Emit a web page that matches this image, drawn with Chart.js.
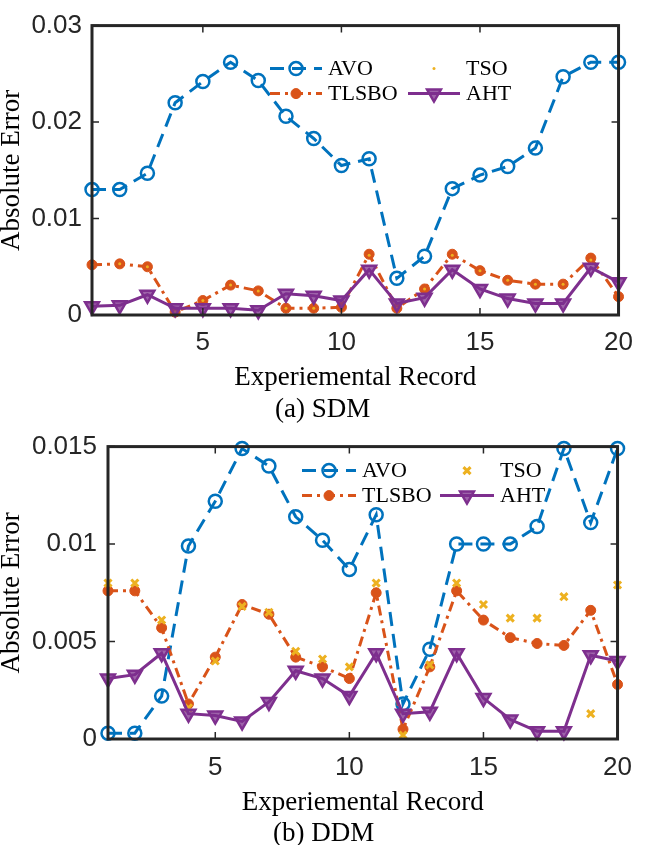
<!DOCTYPE html>
<html>
<head>
<meta charset="utf-8">
<script src="https://cdn.jsdelivr.net/npm/chart.js@4.4.1/dist/chart.umd.min.js"></script>
<style>
  body { margin: 0; background: #fff; }
  .wrap { position: relative; width: 645px; height: 845px; }
  canvas { position: absolute; left: 0; }
  .caption { position: absolute; font: 27px "Liberation Serif", serif; line-height: 30px; color: #000; white-space: nowrap; z-index: 2; }
</style>
</head>
<body>
<div class="wrap">
  <canvas id="sdmChart" width="645" height="395" style="top:0"></canvas>
  <canvas id="ddmChart" width="645" height="400" style="top:420px"></canvas>
  <div class="caption" style="left:275px; top:393px">(a) SDM</div>
  <div class="caption" style="left:273px; top:817px">(b) DDM</div>
</div>
<script>
// experimental records 1..20
const records = [1,2,3,4,5,6,7,8,9,10,11,12,13,14,15,16,17,18,19,20];
const seriesNames = ['AVO', 'TLSBO', 'TSO', 'AHT'];

// (a) SDM absolute errors
const avoSDM   = [0.0130,0.0130,0.0147,0.0220,0.0242,0.0262,0.0243,0.0206,0.0183,0.0155,0.0162,0.0038,0.0061,0.0131,0.0145,0.0154,0.0173,0.0247,0.0262,0.0262];
const tlsboSDM = [0.0052,0.0053,0.0050,0.0003,0.0015,0.0031,0.0025,0.0007,0.0007,0.0008,0.0063,0.0007,0.0027,0.0063,0.0046,0.0036,0.0032,0.0032,0.0059,0.0019];
const tsoSDM   = [0.0052,0.0053,0.0050,0.0003,0.0015,0.0031,0.0025,0.0007,0.0007,0.0008,0.0062,0.0007,0.0027,0.0062,0.0046,0.0036,0.0032,0.0032,0.0057,0.0019];
const ahtSDM   = [0.0009,0.0010,0.0021,0.0007,0.0007,0.0007,0.0005,0.0022,0.0020,0.0015,0.0047,0.0012,0.0018,0.0047,0.0027,0.0017,0.0012,0.0012,0.0049,0.0034];

// (b) DDM absolute errors
const avoDDM   = [0.0003,0.0003,0.0022,0.0099,0.0122,0.0149,0.0140,0.0114,0.0102,0.0087,0.0115,0.0018,0.0046,0.0100,0.0100,0.0100,0.0109,0.0149,0.0111,0.0149];
const tlsboDDM = [0.0076,0.0076,0.0057,0.0018,0.0042,0.0069,0.0064,0.0042,0.0037,0.0031,0.0075,0.0005,0.0037,0.0076,0.0061,0.0052,0.0049,0.0048,0.0066,0.0028];
const tsoDDM   = [0.0080,0.0080,0.0061,0.0016,0.0040,0.0068,0.0065,0.0045,0.0041,0.0037,0.0080,0.0002,0.0038,0.0080,0.0069,0.0062,0.0062,0.0073,0.0013,0.0079];
const ahtDDM   = [0.0031,0.0033,0.0044,0.0013,0.0012,0.0009,0.0019,0.0035,0.0031,0.0022,0.0044,0.0013,0.0014,0.0044,0.0021,0.0010,0.0004,0.0004,0.0043,0.0040];

const xTicks = [5, 10, 15, 20];
const yTicksSDM = [0, 0.01, 0.02, 0.03];
const yTicksDDM = [0, 0.005, 0.01, 0.015];

const BLUE = '#0072BD', ORANGE = '#D95319', YELLOW = '#EDB120', PURPLE = '#7E2F8E';
const AXIS = '#262626';

function toPoints(vals) {
    return vals.map((v, i) => ({ x: records[i], y: v }));
}

function buildDatasets(avo, tlsbo, tso, aht, tsoStyle) {
    return [
        {
            label: seriesNames[0], data: toPoints(avo), order: 3,
            borderColor: BLUE, borderWidth: 3, borderDash: [14, 8],
            pointStyle: 'circle', pointRadius: 6.5, pointBorderWidth: 2.5,
            pointBorderColor: BLUE, pointBackgroundColor: 'rgba(0,0,0,0)'
        },
        {
            label: seriesNames[1], data: toPoints(tlsbo), order: 2,
            borderColor: ORANGE, borderWidth: 3, borderDash: [10, 5, 3, 5],
            pointStyle: 'circle', pointRadius: 5, pointBorderWidth: 1,
            pointBorderColor: ORANGE, pointBackgroundColor: ORANGE
        },
        tsoStyle === 'dot' ? {
            label: seriesNames[2], data: toPoints(tso), order: 1, showLine: false,
            pointStyle: 'circle', pointRadius: 1.5, pointBorderWidth: 0,
            pointBorderColor: YELLOW, pointBackgroundColor: YELLOW, borderColor: YELLOW
        } : {
            label: seriesNames[2], data: toPoints(tso), order: 1, showLine: false,
            pointStyle: 'crossRot', pointRadius: 5, pointBorderWidth: 3,
            pointBorderColor: YELLOW, pointBackgroundColor: YELLOW, borderColor: YELLOW
        },
        {
            label: seriesNames[3], data: toPoints(aht), order: 0,
            borderColor: PURPLE, borderWidth: 3,
            pointStyle: 'triangle', pointRotation: 180, pointRadius: 8, pointBorderWidth: 2.5,
            pointBorderColor: PURPLE, pointBackgroundColor: 'rgba(126,47,142,0.75)'
        }
    ];
}

// box + inward ticks, MATLAB style
const boxPlugin = {
    id: 'box',
    afterDatasetsDraw(chart) {
        const { ctx, chartArea: a, scales } = chart;
        ctx.save();
        ctx.strokeStyle = AXIS;
        ctx.lineWidth = 1.5;
        const len = 7;
        scales.x.ticks.forEach(t => {
            const px = scales.x.getPixelForValue(t.value);
            ctx.beginPath();
            ctx.moveTo(px, a.bottom); ctx.lineTo(px, a.bottom - len);
            ctx.moveTo(px, a.top); ctx.lineTo(px, a.top + len);
            ctx.stroke();
        });
        scales.y.ticks.forEach(t => {
            const py = scales.y.getPixelForValue(t.value);
            ctx.beginPath();
            ctx.moveTo(a.left, py); ctx.lineTo(a.left + len, py);
            ctx.moveTo(a.right, py); ctx.lineTo(a.right - len, py);
            ctx.stroke();
        });
        ctx.lineWidth = 3;
        ctx.strokeRect(a.left, a.top, a.right - a.left, a.bottom - a.top);
        ctx.restore();
    }
};

// two-column legend inside the axes, filled column by column
const insideLegend = {
    id: 'insideLegend',
    afterDraw(chart, args, opts) {
        const { ctx, chartArea: a } = chart;
        ctx.save();
        chart.data.datasets.forEach((ds, i) => {
            const col = Math.floor(i / 2), row = i % 2;
            const x0 = a.left + opts.dx + col * opts.colGap;
            const y0 = a.top + opts.dy + row * opts.rowGap;
            const mid = x0 + opts.sample / 2;
            if (ds.showLine !== false) {
                ctx.strokeStyle = ds.borderColor;
                ctx.lineWidth = ds.borderWidth;
                ctx.setLineDash(ds.borderDash || []);
                ctx.beginPath();
                ctx.moveTo(x0, y0); ctx.lineTo(x0 + opts.sample, y0);
                ctx.stroke();
            }
            ctx.setLineDash([]);
            ctx.strokeStyle = ds.pointBorderColor;
            ctx.fillStyle = ds.pointBackgroundColor;
            ctx.lineWidth = ds.pointBorderWidth;
            Chart.helpers.drawPoint(ctx, {
                pointStyle: ds.pointStyle, rotation: ds.pointRotation || 0,
                radius: ds.pointRadius, borderWidth: ds.pointBorderWidth
            }, mid, y0);
            ctx.fillStyle = '#000';
            ctx.font = '22px "Liberation Serif", serif';
            ctx.textBaseline = 'middle';
            ctx.textAlign = 'left';
            ctx.fillText(ds.label, x0 + opts.textOffset, y0 + 1);
        });
        ctx.restore();
    }
};

function makeChart(id, datasets, yMax, yTicks, geo) {
    return new Chart(document.getElementById(id), {
        type: 'line',
        data: { datasets },
        plugins: [boxPlugin, insideLegend],
        options: {
            responsive: false,
            animation: false,
            devicePixelRatio: 1,
            layout: { padding: { left: 0, right: geo.padRight, top: geo.padTop, bottom: 0 } },
            datasets: { line: { clip: false, tension: 0 } },
            plugins: {
                legend: { display: false },
                tooltip: { enabled: false },
                insideLegend: geo.legend
            },
            scales: {
                x: {
                    type: 'linear', min: 1, max: 20,
                    afterBuildTicks: s => { s.ticks = xTicks.map(v => ({ value: v })); },
                    afterFit: s => { s.height = geo.xHeight; },
                    grid: { display: false, drawTicks: false },
                    border: { display: false },
                    ticks: { color: AXIS, padding: geo.xTickPad, font: { family: 'Liberation Sans', size: 26 } },
                    title: {
                        display: true, text: 'Experiemental Record', color: '#000',
                        padding: { top: 0, bottom: 1 },
                        font: { family: 'Liberation Serif', size: 27, lineHeight: 1.2 }
                    }
                },
                y: {
                    min: 0, max: yMax,
                    afterBuildTicks: s => { s.ticks = yTicks.map(v => ({ value: v })); },
                    afterFit: s => { s.width = geo.yWidth; },
                    grid: { display: false, drawTicks: false },
                    border: { display: false },
                    ticks: {
                        color: AXIS, padding: geo.yTickPad,
                        font: { family: 'Liberation Sans', size: 26 },
                        callback: v => v === 0 ? '0' : String(+v.toFixed(3))
                    },
                    title: {
                        display: true, text: 'Absolute Error', color: '#000',
                        padding: { top: 0, bottom: 0 },
                        font: { family: 'Liberation Serif', size: 27, lineHeight: 0.85 }
                    }
                }
            }
        }
    });
}

makeChart('sdmChart', buildDatasets(avoSDM, tlsboSDM, tsoSDM, ahtSDM, 'dot'), 0.03, yTicksSDM, {
    padRight: 19, padTop: 10, xHeight: 80, yWidth: 92, xTickPad: 12, yTickPad: 10,
    legend: { dx: 178, dy: 43, colGap: 138, rowGap: 25, sample: 52, textOffset: 58 }
});

makeChart('ddmChart', buildDatasets(avoDDM, tlsboDDM, tsoDDM, ahtDDM, 'cross'), 0.015, yTicksDDM, {
    padRight: 13, padTop: 16, xHeight: 81, yWidth: 108, xTickPad: 13, yTickPad: 11,
    legend: { dx: 194, dy: 24, colGap: 138, rowGap: 25, sample: 54, textOffset: 60 }
});
</script>
</body>
</html>
